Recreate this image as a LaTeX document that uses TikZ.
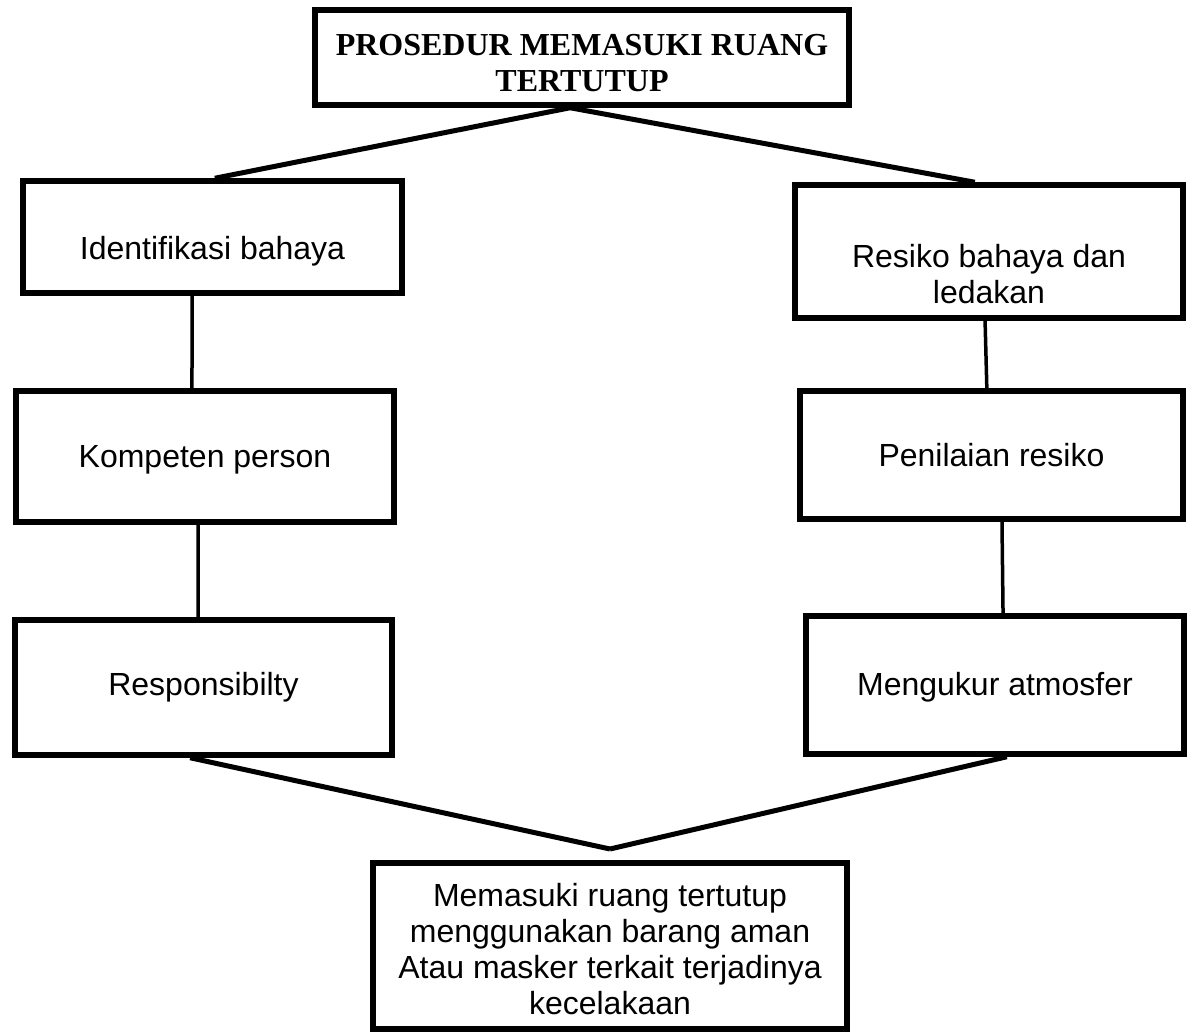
\documentclass[tikz,border=0pt]{standalone}
\usepackage{fontspec}
\setmainfont{Liberation Sans}
\newfontfamily\titlefont{Liberation Serif}
\usetikzlibrary{calc}
\begin{document}
\begin{tikzpicture}[x=1pt,y=-1pt,
  box/.style={draw=black, line width=5.5pt, rectangle, inner sep=0pt},
  txt/.style={align=center, font=\fontsize{32}{36}\selectfont, inner sep=0pt},
  ttl/.style={align=center, font=\titlefont\bfseries\fontsize{32}{36}\selectfont, inner sep=0pt},
  link/.style={draw=black, line width=5pt},
  vlink/.style={draw=black, line width=3.5pt}]
\useasboundingbox (0,0) rectangle (1189,1035);

% boxes
\node[box, minimum width=534pt, minimum height=95pt]  (title) at (582,57.5) {};
\node[box, minimum width=379pt, minimum height=112pt] (ident) at (212.5,237) {};
\node[box, minimum width=378pt, minimum height=131pt] (komp)  at (205,456.5) {};
\node[box, minimum width=377pt, minimum height=135pt] (resp)  at (203.5,687.5) {};
\node[box, minimum width=388pt, minimum height=133pt] (res)   at (989,251.5) {};
\node[box, minimum width=383pt, minimum height=128pt] (pen)   at (991.5,455) {};
\node[box, minimum width=378pt, minimum height=138pt] (meng)  at (995,685) {};
\node[box, minimum width=474pt, minimum height=166pt] (bot)   at (610,946) {};

% texts
\node[ttl] (titleT) at (582,63) {PROSEDUR MEMASUKI RUANG\\TERTUTUP};
\node[txt] (identT) at (212.5,251) {Identifikasi bahaya};
\node[txt] (kompT)  at (205,460) {Kompeten person};
\node[txt] (respT)  at (203.5,687) {Responsibilty};
\node[txt] (resT)   at (989,274) {Resiko bahaya dan\\ledakan};
\node[txt] (penT)   at (991.5,455) {Penilaian resiko};
\node[txt] (mengT)  at (995,687) {Mengukur atmosfer};
\node[txt] (botT)   at (610,949) {Memasuki ruang tertutup\\menggunakan barang aman\\Atau masker terkait terjadinya\\kecelakaan};

\coordinate (meet) at (610,849);

% connectors
\draw[link] ($(title.south west)!0.478!(title.south east)$) -- ($(ident.north west)!0.506!(ident.north east)$);
\draw[link] ($(title.south west)!0.478!(title.south east)$) -- ($(res.north west)!0.464!(res.north east)$);
\draw[vlink] ($(ident.south west)!0.447!(ident.south east)$) -- ($(komp.north west)!0.466!(komp.north east)$);
\draw[vlink] ($(komp.south west)!0.482!(komp.south east)$) -- ($(resp.north west)!0.486!(resp.north east)$);
\draw[vlink] ($(res.south west)!0.49!(res.south east)$) -- ($(pen.north west)!0.488!(pen.north east)$);
\draw[vlink] ($(pen.south west)!0.527!(pen.south east)$) -- ($(meng.north west)!0.521!(meng.north east)$);
\draw[link] ($(resp.south west)!0.465!(resp.south east)$) -- (meet);
\draw[link] ($(meng.south west)!0.531!(meng.south east)$) -- (meet);
\end{tikzpicture}
\end{document}
